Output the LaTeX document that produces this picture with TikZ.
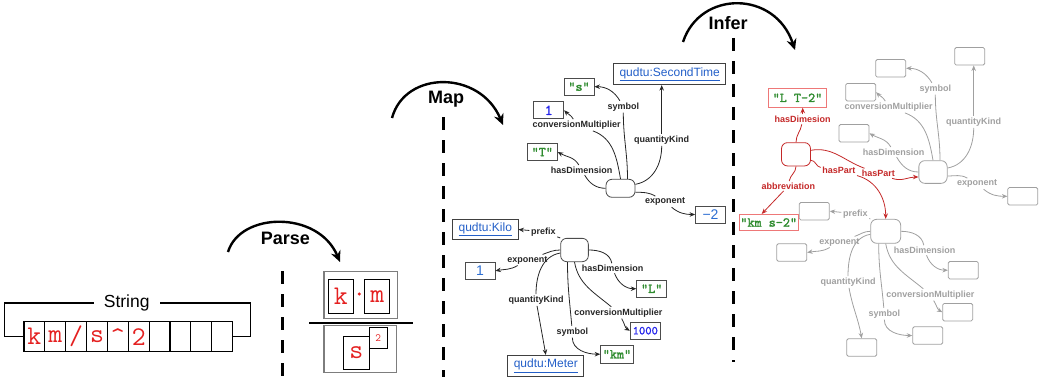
\documentclass[tikz,border=0pt]{standalone}
\usepackage{fontspec}
\setmainfont{Liberation Sans}
\newfontfamily\littt{lmmono10-regular}[Extension=.otf, FakeBold=1.6]
\usetikzlibrary{arrows.meta}

\definecolor{charred}{RGB}{228,32,32}
\definecolor{litgreen}{RGB}{46,139,46}
\definecolor{iriblue}{RGB}{35,95,200}
\definecolor{numblue}{RGB}{35,35,235}
\definecolor{decblue}{RGB}{45,110,210}
\definecolor{infred}{RGB}{196,40,40}
\definecolor{infbox}{RGB}{238,120,120}
\definecolor{ghost}{RGB}{160,160,160}
\definecolor{boxgray}{RGB}{125,125,125}

\newcommand{\lit}[1]{\textquotedbl#1\textquotedbl}

\tikzset{
  charbox/.style={draw, line width=1.1pt, minimum width=20.9pt, minimum height=30pt, inner sep=0pt,
    text=charred, font=\ttfamily\fontsize{27}{27}\selectfont},
  unitbox/.style={charbox, minimum width=25pt, minimum height=34pt},
  title/.style={font=\bfseries\fontsize{18}{18}\selectfont},
  flowarc/.style={line width=2.4pt, -{Stealth[length=11pt,width=10pt]}},
  divider/.style={line width=3pt, dash pattern=on 13pt off 10pt},
  hub/.style={draw=black!70, line width=0.8pt, rounded corners=6pt, minimum width=29pt, minimum height=18pt, inner sep=0pt},
  valbox/.style={draw=black!70, line width=0.8pt, minimum width=30pt, minimum height=17pt, inner sep=0pt},
  litbox/.style={valbox, text=litgreen, font=\littt\fontsize{13.5}{13.5}\selectfont},
  numbox/.style={valbox, text=numblue, font=\littt\fontsize{15}{15}\selectfont},
  decbox/.style={valbox, text=decblue, font=\fontsize{14}{14}\selectfont},
  iri/.style={draw=black!75, line width=0.8pt, inner xsep=6pt, minimum height=21pt, text=iriblue, font=\fontsize{12}{12}\selectfont},
  ghostbox/.style={draw=ghost, line width=0.8pt, rounded corners=1.5pt, minimum width=30pt, minimum height=17.5pt},
  elabel/.style={font=\bfseries\fontsize{9}{9}\selectfont, inner sep=1.5pt},
  wire/.style={line width=0.8pt},
  edge/.style={wire, -{Stealth[length=5.5pt,width=4.5pt]}},
}

% edges of a dimension-vector node: #1 group, #2 colour
\newcommand{\upperedges}[2]{%
  \node[elabel, text=#2] (#1-lsym) at (623.3,106.7) {symbol};
  \node[elabel, text=#2] (#1-lcm) at (576.7,125) {conversionMultiplier};
  \node[elabel, text=#2] (#1-lqk) at (661.7,140) {quantityKind};
  \node[elabel, text=#2] (#1-lhd) at (581.7,170) {hasDimension};
  \node[elabel, text=#2] (#1-lexp) at (665,201.7) {exponent};
  \draw[wire, #2] ([xshift=7pt]#1-hub.north) to[out=90,in=-90] (#1-lsym);
  \draw[edge, #2] (#1-lsym) to[out=120,in=0] (#1-sym.east);
  \draw[wire, #2] (#1-hub.north) to[out=100,in=-20] (#1-lcm);
  \draw[edge, #2] (#1-lcm) to[out=120,in=-45] (#1-cm.east);
  \draw[wire, #2] ([yshift=4pt]#1-hub.east) to[out=10,in=-90] (#1-lqk);
  \draw[edge, #2] (#1-lqk.north) -- (#1-lqk.north |- #1-qk.south);
  \draw[wire, #2] (#1-hub.west) to[out=180,in=-60] (#1-lhd);
  \draw[edge, #2] (#1-lhd) to[out=120,in=-30] (#1-hd.east);
  \draw[wire, #2] ([yshift=-4pt]#1-hub.east) to[out=0,in=150] (#1-lexp);
  \draw[edge, #2] (#1-lexp) to[out=-40,in=180] (#1-exp.west);
}
\newcommand{\loweredges}[2]{%
  \node[elabel, text=#2] (#1-lpre) at (543.3,231.7) {prefix};
  \node[elabel, text=#2] (#1-lexp) at (527.3,260) {exponent};
  \node[elabel, text=#2] (#1-lqk) at (536,300) {quantityKind};
  \node[elabel, text=#2] (#1-lsym) at (572.3,331.7) {symbol};
  \node[elabel, text=#2] (#1-lcm) at (618.3,312.7) {conversionMultiplier};
  \node[elabel, text=#2] (#1-lhd) at (612.7,268.3) {hasDimension};
  \draw[wire, #2] (#1-hub.north west) -- (#1-lpre);
  \draw[edge, #2] (#1-lpre) -- (#1-pre.east);
  \draw[wire, #2] (#1-hub.west) to[out=180,in=20] (#1-lexp);
  \draw[edge, #2] (#1-lexp) to[out=-150,in=10] (#1-exp.east);
  \draw[wire, #2] ([yshift=-3pt]#1-hub.west) to[out=190,in=90] (#1-lqk);
  \draw[edge, #2] (#1-lqk) to[out=-80,in=100] (#1-qk.north);
  \draw[wire, #2] ([xshift=-7pt]#1-hub.south) to[out=-90,in=95] (#1-lsym);
  \draw[edge, #2] (#1-lsym) to[out=-90,in=180] (#1-sym.west);
  \draw[wire, #2] (#1-hub.south) to[out=-80,in=140] (#1-lcm);
  \draw[edge, #2] (#1-lcm) to[out=-60,in=150] (#1-cm.west);
  \draw[wire, #2] (#1-hub.east) to[out=0,in=100] (#1-lhd);
  \draw[edge, #2] (#1-lhd) to[out=-70,in=180] (#1-hd.west);
}

\begin{document}
\begin{tikzpicture}[x=1pt,y=-1pt]
\useasboundingbox (0,0) rectangle (1040,377);

% the unit string
\foreach \c [count=\i from 0] in {k,m,/,s,\textasciicircum,2,{},{},{},{}}
  \node[charbox] (cell\i) at (34.4+20.87*\i,336.7) {\c};
\node[font=\fontsize{17.5}{17.5}\selectfont, inner xsep=10pt] (strlbl) at (126.7,303) {String};
\draw[line width=1.4pt] (cell0.west) -- ++(-19,0) |- (strlbl.west);
\draw[line width=1.4pt] (cell9.east) -- ++(17.3,0) |- (strlbl.east);

% steps
\draw[flowarc] (228,252) .. controls (240,212) and (318,210) .. (340,262);
\draw[flowarc] (392,118) .. controls (405,70) and (480,70) .. (503,125);
\draw[flowarc] (683,42) .. controls (700,-10) and (775,-10) .. (795,50);
\node[title] (parse) at (285.3,238) {Parse};
\node[title] (map) at (446,99) {Map};
\node[title] (infer) at (728,23) {Infer};
\draw[divider] (282.7,271) -- (282.7,377);
\draw[divider] (443.5,117) -- (443.5,377);
\draw[divider] (733.5,38) -- (733.5,362);

% parsed fraction
\node[draw=boxgray, line width=1.5pt, minimum width=73.7pt, minimum height=46.6pt] (numer) at (360.8,295) {};
\node[draw=boxgray, line width=1.5pt, minimum width=72.7pt, minimum height=47pt] (denom) at (360.3,349.2) {};
\node[unitbox] (fk) at (340.8,296.3) {k};
\node[text=charred, inner sep=0pt, font=\littt\fontsize{22}{22}\selectfont] (fdot) at (359.3,296.7) {\textperiodcentered};
\node[unitbox] (fm) at (377.2,296.3) {m};
\node[unitbox, minimum width=25.7pt, minimum height=32.6pt] (fs) at (356.2,353) {s};
\node[unitbox, minimum width=18pt, minimum height=21pt, font=\ttfamily\fontsize{11}{11}\selectfont] (fpow) at (378.3,337.8) {2};
\draw[line width=2pt] (309.3,322.7) -- (412.7,322.7);

% mapped graph
\node[hub] (A-hub) at (620.5,188.3) {};
\node[litbox] (A-sym) at (579,86.7) {\lit{s}};
\node[numbox] (A-cm) at (548.7,110.3) {1};
\node[litbox] (A-hd) at (542.3,152) {\lit{T}};
\node[iri] (A-qk) at (669.7,74.2) {\underline{qudtu:SecondTime}};
\node[decbox] (A-exp) at (710.5,214.5) {−2};
\upperedges{A}{black!85}

\node[hub, minimum width=27.7pt, minimum height=23.3pt] (B-hub) at (574.5,250) {};
\node[iri, minimum height=19pt] (B-pre) at (485.3,229.5) {\underline{qudtu:Kilo}};
\node[decbox] (B-exp) at (480,270.8) {1};
\node[litbox] (B-hd) at (651.7,288.7) {\lit{L}};
\node[numbox, font=\littt\fontsize{12}{12}\selectfont] (B-cm) at (645.3,330.7) {1000};
\node[litbox, minimum width=32.7pt, minimum height=18.3pt] (B-sym) at (617,354.2) {\lit{km}};
\node[iri] (B-qk) at (545.8,365.8) {\underline{qudtu:Meter}};
\loweredges{B}{black!85}

% inferred graph
\node[hub, minimum width=28.3pt, minimum height=22.7pt, draw=ghost] (C-hub) at (933,172) {};
\foreach \n/\x/\y in {sym/890.7/68.3, qk/969.7/56.3, cm/860.7/92.2, hd/854/133.3, exp/1022.8/196.3}
  \node[ghostbox] (C-\n) at (\x,\y) {};
\begin{scope}[shift={(312,-18)}]
\upperedges{C}{ghost}
\end{scope}

\node[hub, minimum width=30pt, minimum height=24pt, draw=ghost] (D-hub) at (885.7,231.3) {};
\foreach \n/\x/\y in {pre/814.3/211.2, exp/791.7/252.5, hd/963.3/270.2, cm/957.7/312.2, sym/927.7/335.5, qk/861.7/347.5}
  \node[ghostbox] (D-\n) at (\x,\y) {};
\begin{scope}[shift={(312,-18)}]
\loweredges{D}{ghost}
\end{scope}

\node[hub, minimum height=23.3pt, draw=infred] (R-hub) at (796,154.3) {};
\node[litbox, draw=infbox, minimum width=58.3pt, minimum height=19pt] (R-dim) at (797.5,97.8) {\lit{L T-2}};
\node[litbox, draw=infbox, minimum width=59.3pt, minimum height=16.3pt] (R-abbr) at (768.7,222.5) {\lit{km s-2}};
\node[elabel, text=infred] (R-lhd) at (802.7,119.3) {hasDimesion};
\node[elabel, text=infred] (R-lab) at (788.3,186) {abbreviation};
\node[elabel, text=infred] (R-lp1) at (878.3,173.3) {hasPart};
\node[elabel, text=infred] (R-lp2) at (838.8,170.7) {hasPart};
\draw[wire, infred] (R-hub.north) to[out=90,in=-100] (R-lhd);
\draw[edge, infred] (R-lhd.north) -- (R-lhd.north |- R-dim.south);
\draw[wire, infred] (R-hub.south) to[out=-90,in=80] (R-lab);
\draw[edge, infred] (R-lab) -- ([xshift=-7pt]R-abbr.north);
\draw[wire, infred] ([yshift=4pt]R-hub.east) to[out=10,in=160] (R-lp1);
\draw[edge, infred] (R-lp1) to[out=-20,in=180] ([yshift=-5pt]C-hub.west);
\draw[wire, infred] ([yshift=-6pt]R-hub.east) to[out=0,in=170] (R-lp2);
\draw[edge, infred] (R-lp2) to[out=-15,in=90] (D-hub.north);
\end{tikzpicture}
\end{document}
